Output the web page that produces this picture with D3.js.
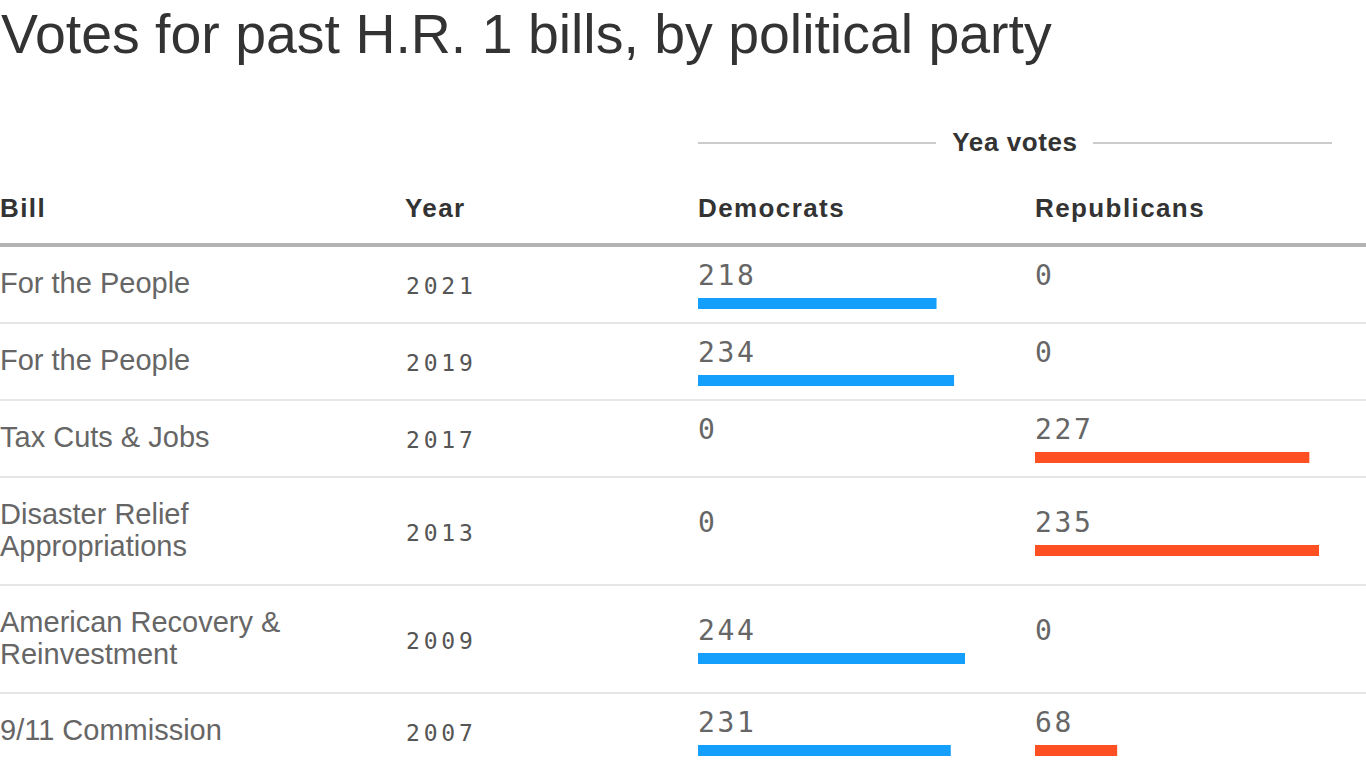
<!DOCTYPE html>
<html>
<head>
<meta charset="utf-8">
<script src="https://cdn.jsdelivr.net/npm/d3@7"></script>
<style>
  html, body { margin: 0; padding: 0; background: #fff; }
  svg { display: block; }
</style>
</head>
<body>
<svg id="chart" width="1366" height="768"></svg>
<script>
// ---- data ----
const title = "Votes for past H.R. 1 bills, by political party";
const groupLabel = "Yea votes";
const columnHeaders = ["Bill", "Year", "Democrats", "Republicans"];
const bills = ["For the People", "For the People", "Tax Cuts & Jobs", "Disaster Relief|Appropriations", "American Recovery &|Reinvestment", "9/11 Commission"];
const years = ["2021", "2019", "2017", "2013", "2009", "2007"];
const democrats = [218, 234, 0, 0, 244, 231];
const republicans = [0, 0, 227, 235, 0, 68];

// ---- layout ----
const W = 1366, H = 768;
const colX = [0, 406, 698, 1035];
const sansFont = "'Liberation Sans', Arial, sans-serif";
const monoFont = "'DejaVu Sans Mono', 'Liberation Mono', monospace";
const blue = "#149ffc", red = "#ff5023";

const svg = d3.select("#chart");

// title
const t = svg.append("text")
  .attr("x", 1).attr("y", 53)
  .attr("font-family", sansFont).attr("font-size", 54)
  .attr("fill", "#333").text(title);
const tw = t.node().getComputedTextLength();
t.attr("font-size", 54 * 1051 / tw);

// group label with lines
svg.append("text")
  .attr("x", 1015).attr("y", 151).attr("text-anchor", "middle")
  .attr("font-family", sansFont).attr("font-size", 26).attr("font-weight", 700)
  .attr("fill", "#333").attr("letter-spacing", "0.6px").text(groupLabel);
svg.append("line").attr("x1", 698).attr("x2", 936).attr("y1", 143).attr("y2", 143)
  .attr("stroke", "#cccccc").attr("stroke-width", 2);
svg.append("line").attr("x1", 1093).attr("x2", 1332).attr("y1", 143).attr("y2", 143)
  .attr("stroke", "#cccccc").attr("stroke-width", 2);

// column headers
svg.selectAll("text.hdr").data(columnHeaders).join("text")
  .attr("class", "hdr")
  .attr("x", (d, i) => colX[i] + (i === 1 ? -1 : 0)).attr("y", 217)
  .attr("font-family", sansFont).attr("font-size", 26).attr("font-weight", 700)
  .attr("fill", "#333").attr("letter-spacing", "1.4px").text(d => d);

// header rule
svg.append("rect").attr("x", 0).attr("y", 243).attr("width", W).attr("height", 4)
  .attr("fill", "#b3b3b3");

// rows
const rows = bills.map((b, i) => ({
  lines: b.split("|"), year: years[i], dem: democrats[i], rep: republicans[i]
}));
let yCur = 245.5;
rows.forEach(r => {
  r.h = 46 + 31 * r.lines.length;
  r.top = yCur;
  r.cy = yCur + r.h / 2;
  yCur += r.h;
});

const xDem = d3.scaleLinear().domain([0, d3.max(democrats)]).range([0, 267]);
const xRep = d3.scaleLinear().domain([0, d3.max(republicans)]).range([0, 284]);

const g = svg.selectAll("g.row").data(rows).join("g").attr("class", "row");

// separators
g.filter((d, i) => i < rows.length - 1).append("rect")
  .attr("x", 0).attr("width", W).attr("y", d => Math.round(d.top + d.h - 1)).attr("height", 2)
  .attr("fill", "#e6e6e6");

// bill names
g.each(function(d) {
  const n = d.lines.length;
  const first = d.cy - 1 + 10 - (n - 1) * 16;
  const txt = d3.select(this).append("text")
    .attr("font-family", sansFont).attr("font-size", 29)
    .attr("fill", "#666");
  d.lines.forEach((l, k) => {
    txt.append("tspan").attr("x", 0).attr("y", first + k * 32).text(l);
  });
});

// years
g.append("text")
  .attr("x", colX[1]).attr("y", d => d.cy + 10)
  .attr("font-family", monoFont).attr("font-size", 23)
  .attr("letter-spacing", "3.8px").attr("fill", "#555").text(d => d.year);

// values and bars
function valueCol(key, x0, scale, color) {
  g.append("text")
    .attr("x", x0).attr("y", d => d.cy + 1)
    .attr("font-family", monoFont).attr("font-size", 28)
    .attr("letter-spacing", "2.6px").attr("fill", "#666").text(d => d[key]);
  g.filter(d => d[key] > 0).append("rect")
    .attr("x", x0).attr("y", d => Math.round(d.cy + 14))
    .attr("width", d => scale(d[key])).attr("height", 11)
    .attr("fill", color);
}
valueCol("dem", colX[2], xDem, blue);
valueCol("rep", colX[3], xRep, red);
</script>
</body>
</html>
